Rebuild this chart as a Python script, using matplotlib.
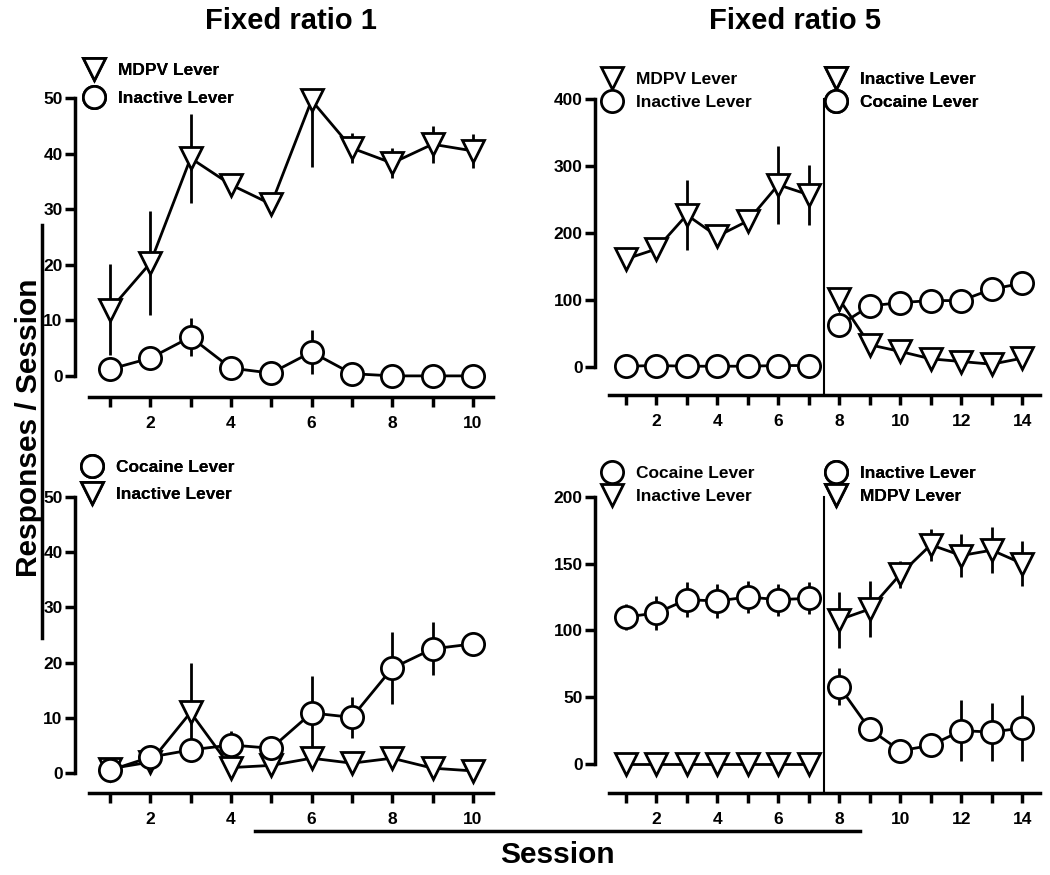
import matplotlib
matplotlib.use('Agg')
import matplotlib.pyplot as plt
from matplotlib.lines import Line2D

plt.rcParams['font.family'] = ['Liberation Sans', 'DejaVu Sans']
plt.rcParams['font.weight'] = 'bold'

# Fixed ratio 1, top: MDPV vs inactive
fr1_sessions = [1, 2, 3, 4, 5, 6, 7, 8, 9, 10]
fr1a_mdpv = [11.9, 20.3, 39.2, 34.4, 30.9, 49.6, 41.0, 38.3, 41.7, 40.5]
fr1a_mdpv_lo = [8.2, 9.3, 8.0, 1.5, 2.0, 12.0, 2.7, 2.7, 3.3, 3.0]
fr1a_mdpv_hi = [8.2, 9.3, 8.0, 1.5, 2.0, 0.0, 2.7, 2.7, 3.3, 3.0]
fr1a_inact = [1.2, 3.2, 7.0, 1.4, 0.5, 4.3, 0.4, 0.0, 0.0, 0.0]
fr1a_inact_err = [0.5, 0.8, 3.4, 0.5, 0.3, 4.0, 0.3, 0.0, 0.0, 0.0]

# Fixed ratio 1, bottom: cocaine vs inactive
fr1b_coc = [0.5, 2.9, 4.2, 5.1, 4.5, 10.9, 10.1, 19.0, 22.5, 23.4]
fr1b_coc_err = [0.5, 0.8, 2.0, 2.5, 1.0, 6.7, 3.7, 6.5, 4.8, 0.5]
fr1b_inact = [0.8, 2.0, 11.0, 1.0, 1.4, 2.7, 1.8, 2.7, 0.9, 0.4]
fr1b_inact_err = [0.5, 0.8, 9.0, 1.0, 0.5, 0.5, 0.5, 0.5, 0.5, 0.3]

# Fixed ratio 5, top: MDPV trained (1-7), then cocaine substitution (8-14)
fr5a_s1 = [1, 2, 3, 4, 5, 6, 7]
fr5a_mdpv = [161, 176, 227, 195, 218, 272, 257]
fr5a_mdpv_err = [15, 5, 52, 6, 12, 58, 45]
fr5a_inact = [1, 2, 1, 1, 1, 2, 2]
fr5a_s2 = [8, 9, 10, 11, 12, 13, 14]
fr5a_inact2 = [101, 33, 23, 12, 8, 4, 13]
fr5a_inact2_err = [17, 5, 4, 3, 3, 3, 3]
fr5a_coc = [62, 91, 96, 99, 99, 116, 125]
fr5a_coc_err = [5, 5, 4, 4, 4, 4, 4]

# Fixed ratio 5, bottom: cocaine trained (1-7), then MDPV substitution (8-14)
fr5b_coc = [110, 113, 123, 122, 125, 123, 124]
fr5b_coc_err = [10, 13, 13, 13, 12, 12, 12]
fr5b_inact = [0, 0, 0, 0, 0, 0, 0]
fr5b_mdpv = [108, 116, 142, 164, 156, 160, 150]
fr5b_mdpv_err = [21, 21, 10, 12, 16, 17, 17]
fr5b_inact2 = [58, 26, 10, 14, 25, 24, 27]
fr5b_inact2_err = [14, 9, 3, 7, 23, 22, 25]

W, H = 1050, 875
fig = plt.figure(figsize=(10.5, 8.75), dpi=100)


def px_axes(x0, y0, x1, y1):
    return fig.add_axes([x0 / W, 1 - y1 / H, (x1 - x0) / W, (y1 - y0) / H])


LW = 2.0
MS = 16
MEW = 2.0
FS = 12.5


def series(ax, x, y, err, marker):
    ax.errorbar(x, y, yerr=err, fmt='none', ecolor='black', elinewidth=LW,
                capsize=0, zorder=2, clip_on=False)
    ax.plot(x, y, color='black', lw=LW, marker=marker, ms=MS, mew=MEW,
            mfc='white', mec='black', zorder=3, clip_on=False)


def style(ax, xmax, ytop, ystep, xlim, ylim):
    ax.set_xlim(*xlim)
    ax.set_ylim(*ylim)
    for s in ['top', 'right']:
        ax.spines[s].set_visible(False)
    ax.spines['left'].set_position(('outward', 10))
    ax.spines['left'].set_bounds(0, ytop)
    for s in ['left', 'bottom']:
        ax.spines[s].set_linewidth(2.5)
    ax.set_yticks(range(0, ytop + 1, ystep))
    ticks = list(range(1, xmax + 1))
    ax.set_xticks(ticks)
    ax.set_xticklabels([str(t) if t % 2 == 0 else '' for t in ticks])
    ax.tick_params(width=2.5, length=7.5, labelsize=FS, pad=1.5)
    ax.tick_params(axis='x', pad=6)
    for lab in ax.get_xticklabels() + ax.get_yticklabels():
        lab.set_fontweight('bold')


def leg(ax, labels, markers, x, y, spacing):
    handles = [Line2D([], [], ls='none', marker=m, ms=MS, mew=MEW, mfc='white',
                      mec='black') for m in markers]
    lg = ax.legend(handles, labels, loc='upper left', bbox_to_anchor=(x / W, 1 - y / H),
                   bbox_transform=fig.transFigure, frameon=False,
                   handlelength=1.2, handletextpad=0.75, labelspacing=spacing,
                   borderpad=0, borderaxespad=0, prop={'weight': 'bold', 'size': FS})
    ax.add_artist(lg)


# top-left
ax1 = px_axes(89, 87, 493, 397)
series(ax1, fr1_sessions, fr1a_mdpv, [fr1a_mdpv_lo, fr1a_mdpv_hi], 'v')
series(ax1, fr1_sessions, fr1a_inact, fr1a_inact_err, 'o')
style(ax1, 10, 50, 10, (0.48, 10.5), (-3.8, 52))
leg(ax1, ['MDPV Lever', 'Inactive Lever'], ['v', 'o'], 84, 63, 0.75)

# bottom-left
ax2 = px_axes(89, 486, 493, 793)
series(ax2, fr1_sessions, fr1b_inact, fr1b_inact_err, 'v')
series(ax2, fr1_sessions, fr1b_coc, fr1b_coc_err, 'o')
style(ax2, 10, 50, 10, (0.48, 10.5), (-3.6, 52))
leg(ax2, ['Cocaine Lever', 'Inactive Lever'], ['o', 'v'], 82, 460, 0.7)

# top-right
ax3 = px_axes(609, 89, 1040, 395)
series(ax3, fr5a_s1, fr5a_mdpv, fr5a_mdpv_err, 'v')
series(ax3, fr5a_s1, fr5a_inact, [0] * 7, 'o')
series(ax3, fr5a_s2, fr5a_inact2, fr5a_inact2_err, 'v')
series(ax3, fr5a_s2, fr5a_coc, fr5a_coc_err, 'o')
style(ax3, 14, 400, 100, (0.45, 14.58), (-42, 415))
ax3.plot([7.5, 7.5], [-42, 400], color='black', lw=1.5, zorder=1)
leg(ax3, ['MDPV Lever', 'Inactive Lever'], ['v', 'o'], 602, 72, 0.45)
leg(ax3, ['Inactive Lever', 'Cocaine Lever'], ['v', 'o'], 826, 72, 0.45)

# bottom-right
ax4 = px_axes(609, 486, 1040, 793)
series(ax4, fr5a_s1, fr5b_inact, [0] * 7, 'v')
series(ax4, fr5a_s1, fr5b_coc, fr5b_coc_err, 'o')
series(ax4, fr5a_s2, fr5b_mdpv, fr5b_mdpv_err, 'v')
series(ax4, fr5a_s2, fr5b_inact2, fr5b_inact2_err, 'o')
style(ax4, 14, 200, 50, (0.45, 14.58), (-21.6, 208))
ax4.plot([7.5, 7.5], [-21.6, 200], color='black', lw=1.5, zorder=1)
leg(ax4, ['Cocaine Lever', 'Inactive Lever'], ['o', 'v'], 602, 466, 0.45)
leg(ax4, ['Inactive Lever', 'MDPV Lever'], ['o', 'v'], 826, 466, 0.45)

# titles and shared axis labels
fig.text(291 / W, 1 - 21 / H, 'Fixed ratio 1', ha='center', va='center',
         fontsize=21, fontweight='bold')
fig.text(795 / W, 1 - 21 / H, 'Fixed ratio 5', ha='center', va='center',
         fontsize=21, fontweight='bold')
fig.text(29 / W, 1 - 428 / H, 'Responses / Session', ha='center', va='center',
         rotation=90, fontsize=21.5, fontweight='bold')
fig.text(557 / W, 1 - 855 / H, 'Session', ha='center', va='center',
         fontsize=21.5, fontweight='bold')
fig.add_artist(Line2D([42 / W, 42 / W], [1 - 225 / H, 1 - 638 / H], color='black', lw=2.5))
fig.add_artist(Line2D([255 / W, 860 / W], [1 - 831 / H, 1 - 831 / H], color='black', lw=2.5))

fig.savefig('out.png', dpi=100)
